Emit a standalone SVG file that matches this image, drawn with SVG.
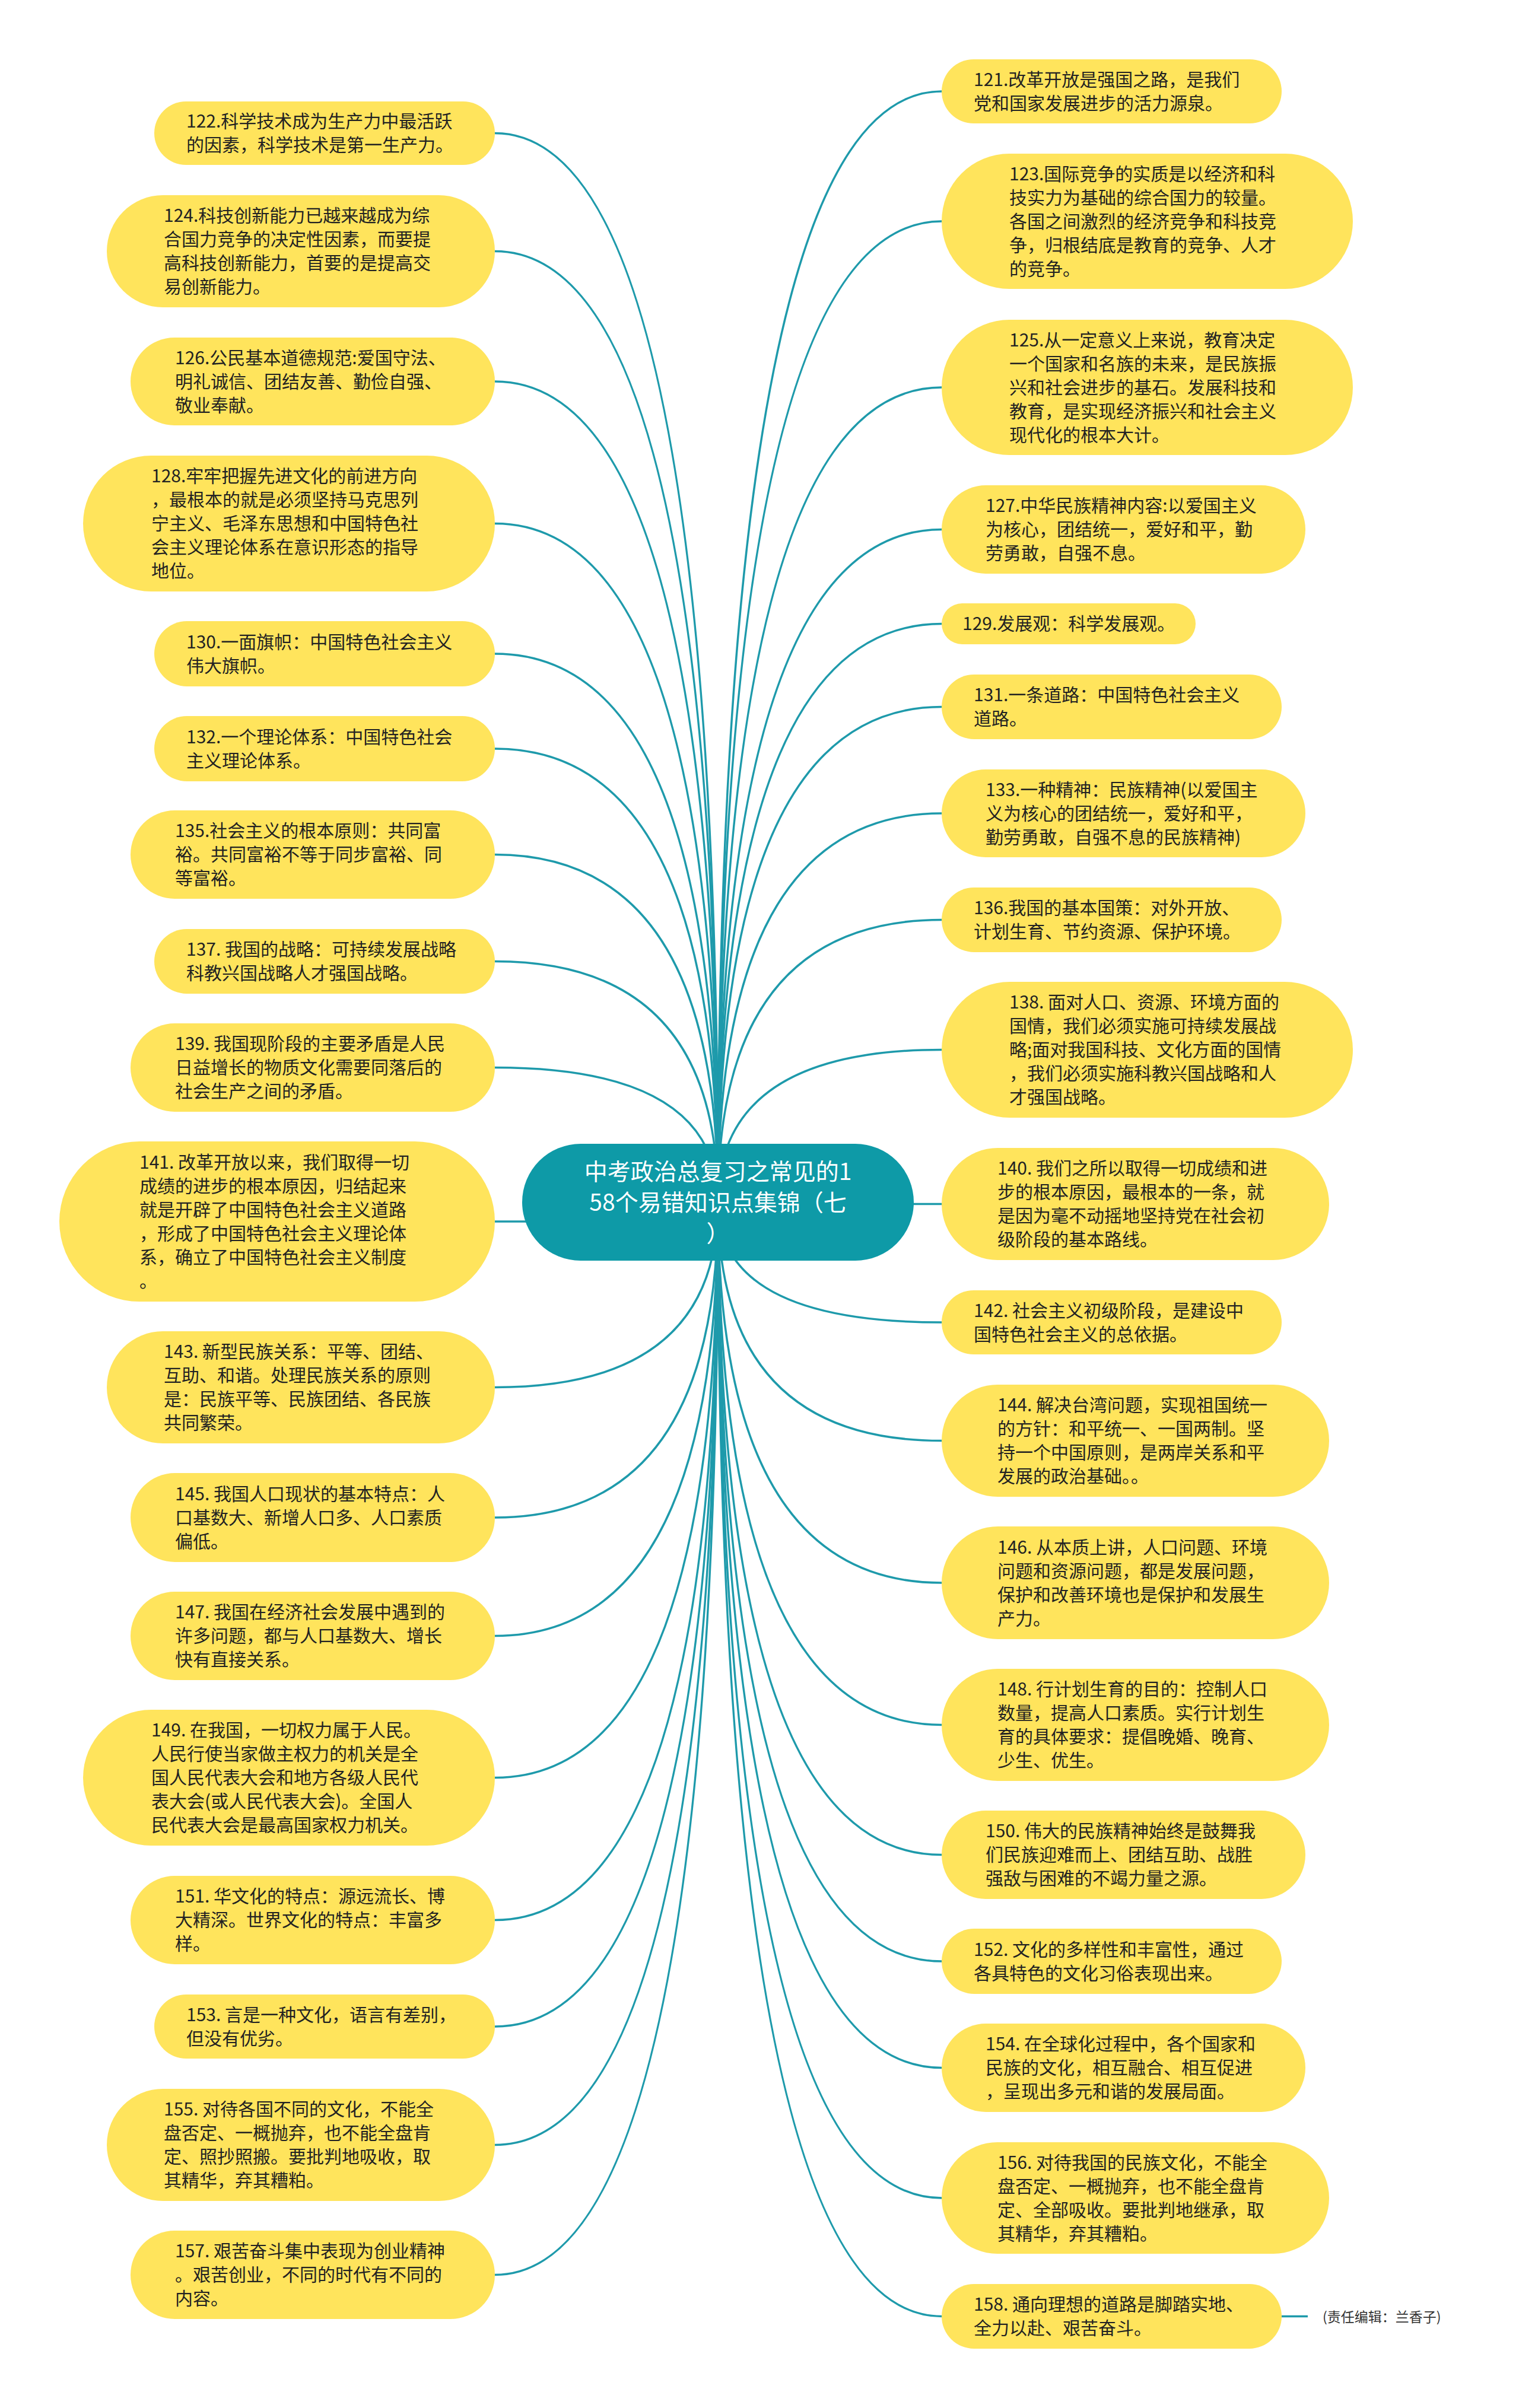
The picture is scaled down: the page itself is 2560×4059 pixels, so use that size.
<svg xmlns="http://www.w3.org/2000/svg" width="2560" height="4059" viewBox="0 0 2560 4059">
<style>
.n{fill:#FFE45C}
.t{font-family:"Noto Sans CJK SC","Noto Sans",sans-serif;font-size:30px;fill:#222}
.c{fill:#0E9AA7}
.ct{font-family:"Noto Sans CJK SC","Noto Sans",sans-serif;font-size:39px;fill:#fff;text-anchor:middle}
.e{stroke:#1E9AAB;stroke-width:3.5;fill:none}
.ed{font-family:"Noto Sans CJK SC","Noto Sans",sans-serif;font-size:23px;fill:#333}
</style>
<rect width="2560" height="4059" fill="#fff"/>
<g id="connectors">
<path class="e" d="M1210 2027 Q1210 224.5 834 224.5"/>
<path class="e" d="M1210 2027 Q1210 423.5 834 423.5"/>
<path class="e" d="M1210 2027 Q1210 643 834 643"/>
<path class="e" d="M1210 2027 Q1210 882.5 834 882.5"/>
<path class="e" d="M1210 2027 Q1210 1102 834 1102"/>
<path class="e" d="M1210 2027 Q1210 1262 834 1262"/>
<path class="e" d="M1210 2027 Q1210 1440.5 834 1440.5"/>
<path class="e" d="M1210 2027 Q1210 1620.5 834 1620.5"/>
<path class="e" d="M1210 2027 Q1210 1799.5 834 1799.5"/>
<path class="e" d="M1210 2027 Q1210 2059 834 2059"/>
<path class="e" d="M1210 2027 Q1210 2338.5 834 2338.5"/>
<path class="e" d="M1210 2027 Q1210 2558 834 2558"/>
<path class="e" d="M1210 2027 Q1210 2757.5 834 2757.5"/>
<path class="e" d="M1210 2027 Q1210 2996.5 834 2996.5"/>
<path class="e" d="M1210 2027 Q1210 3236.5 834 3236.5"/>
<path class="e" d="M1210 2027 Q1210 3416 834 3416"/>
<path class="e" d="M1210 2027 Q1210 3615.5 834 3615.5"/>
<path class="e" d="M1210 2027 Q1210 3834.5 834 3834.5"/>
<path class="e" d="M1210 2027 Q1210 154 1587 154"/>
<path class="e" d="M1210 2027 Q1210 373 1587 373"/>
<path class="e" d="M1210 2027 Q1210 653 1587 653"/>
<path class="e" d="M1210 2027 Q1210 892.5 1587 892.5"/>
<path class="e" d="M1210 2027 Q1210 1051.5 1587 1051.5"/>
<path class="e" d="M1210 2027 Q1210 1191.5 1587 1191.5"/>
<path class="e" d="M1210 2027 Q1210 1371 1587 1371"/>
<path class="e" d="M1210 2027 Q1210 1550.5 1587 1550.5"/>
<path class="e" d="M1210 2027 Q1210 1769.5 1587 1769.5"/>
<path class="e" d="M1210 2027 Q1210 2029.5 1587 2029.5"/>
<path class="e" d="M1210 2027 Q1210 2229 1587 2229"/>
<path class="e" d="M1210 2027 Q1210 2428.5 1587 2428.5"/>
<path class="e" d="M1210 2027 Q1210 2668 1587 2668"/>
<path class="e" d="M1210 2027 Q1210 2907.5 1587 2907.5"/>
<path class="e" d="M1210 2027 Q1210 3126.5 1587 3126.5"/>
<path class="e" d="M1210 2027 Q1210 3306 1587 3306"/>
<path class="e" d="M1210 2027 Q1210 3485.5 1587 3485.5"/>
<path class="e" d="M1210 2027 Q1210 3705 1587 3705"/>
<path class="e" d="M1210 2027 Q1210 3904.5 1587 3904.5"/>
<path class="e" d="M2160 3904.5 L2204 3904.5"/>
</g>
<g id="center"><rect class="c" x="880" y="1928" width="660" height="197" rx="98.5"/>
<text class="ct" x="1210" y="1988.5">中考政治总复习之常见的1<tspan x="1210" dy="52">58个易错知识点集锦（七</tspan><tspan x="1210" dy="52">）</tspan></text></g>
<g id="n122"><rect class="n" x="260" y="171" width="574" height="107" rx="53.5"/><text class="t" x="314" y="215">122.科学技术成为生产力中最活跃<tspan x="314" dy="40">的因素，科学技术是第一生产力。</tspan></text></g>
<g id="n124"><rect class="n" x="180" y="329" width="654" height="189" rx="94.5"/><text class="t" x="276" y="374">124.科技创新能力已越来越成为综<tspan x="276" dy="40">合国力竞争的决定性因素，而要提</tspan><tspan x="276" dy="40">高科技创新能力，首要的是提高交</tspan><tspan x="276" dy="40">易创新能力。</tspan></text></g>
<g id="n126"><rect class="n" x="220" y="569" width="614" height="148" rx="74"/><text class="t" x="295" y="613.5">126.公民基本道德规范:爱国守法、<tspan x="295" dy="40">明礼诚信、团结友善、勤俭自强、</tspan><tspan x="295" dy="40">敬业奉献。</tspan></text></g>
<g id="n128"><rect class="n" x="140" y="768" width="694" height="229" rx="114.5"/><text class="t" x="255" y="813">128.牢牢把握先进文化的前进方向<tspan x="255" dy="40">，最根本的就是必须坚持马克思列</tspan><tspan x="255" dy="40">宁主义、毛泽东思想和中国特色社</tspan><tspan x="255" dy="40">会主义理论体系在意识形态的指导</tspan><tspan x="255" dy="40">地位。</tspan></text></g>
<g id="n130"><rect class="n" x="260" y="1047" width="574" height="110" rx="55"/><text class="t" x="314" y="1092.5">130.一面旗帜：中国特色社会主义<tspan x="314" dy="40">伟大旗帜。</tspan></text></g>
<g id="n132"><rect class="n" x="260" y="1207" width="574" height="110" rx="55"/><text class="t" x="314" y="1252.5">132.一个理论体系：中国特色社会<tspan x="314" dy="40">主义理论体系。</tspan></text></g>
<g id="n135"><rect class="n" x="220" y="1366" width="614" height="149" rx="74.5"/><text class="t" x="295" y="1411">135.社会主义的根本原则：共同富<tspan x="295" dy="40">裕。共同富裕不等于同步富裕、同</tspan><tspan x="295" dy="40">等富裕。</tspan></text></g>
<g id="n137"><rect class="n" x="260" y="1566" width="574" height="109" rx="54.5"/><text class="t" x="314" y="1611">137. 我国的战略：可持续发展战略<tspan x="314" dy="40">科教兴国战略人才强国战略。</tspan></text></g>
<g id="n139"><rect class="n" x="220" y="1725" width="614" height="149" rx="74.5"/><text class="t" x="295" y="1770">139. 我国现阶段的主要矛盾是人民<tspan x="295" dy="40">日益增长的物质文化需要同落后的</tspan><tspan x="295" dy="40">社会生产之间的矛盾。</tspan></text></g>
<g id="n141"><rect class="n" x="100" y="1924" width="734" height="270" rx="135"/><text class="t" x="235" y="1969.5">141. 改革开放以来，我们取得一切<tspan x="235" dy="40">成绩的进步的根本原因，归结起来</tspan><tspan x="235" dy="40">就是开辟了中国特色社会主义道路</tspan><tspan x="235" dy="40">，形成了中国特色社会主义理论体</tspan><tspan x="235" dy="40">系，确立了中国特色社会主义制度</tspan><tspan x="235" dy="40">。</tspan></text></g>
<g id="n143"><rect class="n" x="180" y="2244" width="654" height="189" rx="94.5"/><text class="t" x="276" y="2289">143. 新型民族关系：平等、团结、<tspan x="276" dy="40">互助、和谐。处理民族关系的原则</tspan><tspan x="276" dy="40">是：民族平等、民族团结、各民族</tspan><tspan x="276" dy="40">共同繁荣。</tspan></text></g>
<g id="n145"><rect class="n" x="220" y="2483" width="614" height="150" rx="75"/><text class="t" x="295" y="2528.5">145. 我国人口现状的基本特点：人<tspan x="295" dy="40">口基数大、新增人口多、人口素质</tspan><tspan x="295" dy="40">偏低。</tspan></text></g>
<g id="n147"><rect class="n" x="220" y="2683" width="614" height="149" rx="74.5"/><text class="t" x="295" y="2728">147. 我国在经济社会发展中遇到的<tspan x="295" dy="40">许多问题，都与人口基数大、增长</tspan><tspan x="295" dy="40">快有直接关系。</tspan></text></g>
<g id="n149"><rect class="n" x="140" y="2882" width="694" height="229" rx="114.5"/><text class="t" x="255" y="2927">149. 在我国，一切权力属于人民。<tspan x="255" dy="40">人民行使当家做主权力的机关是全</tspan><tspan x="255" dy="40">国人民代表大会和地方各级人民代</tspan><tspan x="255" dy="40">表大会(或人民代表大会)。全国人</tspan><tspan x="255" dy="40">民代表大会是最高国家权力机关。</tspan></text></g>
<g id="n151"><rect class="n" x="220" y="3162" width="614" height="149" rx="74.5"/><text class="t" x="295" y="3207">151. 华文化的特点：源远流长、博<tspan x="295" dy="40">大精深。世界文化的特点：丰富多</tspan><tspan x="295" dy="40">样。</tspan></text></g>
<g id="n153"><rect class="n" x="260" y="3362" width="574" height="108" rx="54"/><text class="t" x="314" y="3406.5">153. 言是一种文化，语言有差别，<tspan x="314" dy="40">但没有优劣。</tspan></text></g>
<g id="n155"><rect class="n" x="180" y="3521" width="654" height="189" rx="94.5"/><text class="t" x="276" y="3566">155. 对待各国不同的文化，不能全<tspan x="276" dy="40">盘否定、一概抛弃，也不能全盘肯</tspan><tspan x="276" dy="40">定、照抄照搬。要批判地吸收，取</tspan><tspan x="276" dy="40">其精华，弃其糟粕。</tspan></text></g>
<g id="n157"><rect class="n" x="220" y="3760" width="614" height="149" rx="74.5"/><text class="t" x="295" y="3805">157. 艰苦奋斗集中表现为创业精神<tspan x="295" dy="40">。艰苦创业，不同的时代有不同的</tspan><tspan x="295" dy="40">内容。</tspan></text></g>
<g id="n121"><rect class="n" x="1587" y="100" width="573" height="108" rx="54"/><text class="t" x="1641" y="144.5">121.改革开放是强国之路，是我们<tspan x="1641" dy="40">党和国家发展进步的活力源泉。</tspan></text></g>
<g id="n123"><rect class="n" x="1587" y="259" width="693" height="228" rx="114"/><text class="t" x="1701" y="303.5">123.国际竞争的实质是以经济和科<tspan x="1701" dy="40">技实力为基础的综合国力的较量。</tspan><tspan x="1701" dy="40">各国之间激烈的经济竞争和科技竞</tspan><tspan x="1701" dy="40">争，归根结底是教育的竞争、人才</tspan><tspan x="1701" dy="40">的竞争。</tspan></text></g>
<g id="n125"><rect class="n" x="1587" y="539" width="693" height="228" rx="114"/><text class="t" x="1701" y="583.5">125.从一定意义上来说，教育决定<tspan x="1701" dy="40">一个国家和名族的未来，是民族振</tspan><tspan x="1701" dy="40">兴和社会进步的基石。发展科技和</tspan><tspan x="1701" dy="40">教育，是实现经济振兴和社会主义</tspan><tspan x="1701" dy="40">现代化的根本大计。</tspan></text></g>
<g id="n127"><rect class="n" x="1587" y="818" width="613" height="149" rx="74.5"/><text class="t" x="1661" y="863">127.中华民族精神内容:以爱国主义<tspan x="1661" dy="40">为核心，团结统一，爱好和平，勤</tspan><tspan x="1661" dy="40">劳勇敢，自强不息。</tspan></text></g>
<g id="n129"><rect class="n" x="1587" y="1017" width="428" height="69" rx="34.5"/><text class="t" x="1622" y="1062">129.发展观：科学发展观。</text></g>
<g id="n131"><rect class="n" x="1587" y="1137" width="573" height="109" rx="54.5"/><text class="t" x="1641" y="1182">131.一条道路：中国特色社会主义<tspan x="1641" dy="40">道路。</tspan></text></g>
<g id="n133"><rect class="n" x="1587" y="1297" width="613" height="148" rx="74"/><text class="t" x="1661" y="1341.5">133.一种精神：民族精神(以爱国主<tspan x="1661" dy="40">义为核心的团结统一，爱好和平，</tspan><tspan x="1661" dy="40">勤劳勇敢，自强不息的民族精神)</tspan></text></g>
<g id="n136"><rect class="n" x="1587" y="1496" width="573" height="109" rx="54.5"/><text class="t" x="1641" y="1541">136.我国的基本国策：对外开放、<tspan x="1641" dy="40">计划生育、节约资源、保护环境。</tspan></text></g>
<g id="n138"><rect class="n" x="1587" y="1655" width="693" height="229" rx="114.5"/><text class="t" x="1701" y="1700">138. 面对人口、资源、环境方面的<tspan x="1701" dy="40">国情，我们必须实施可持续发展战</tspan><tspan x="1701" dy="40">略;面对我国科技、文化方面的国情</tspan><tspan x="1701" dy="40">，我们必须实施科教兴国战略和人</tspan><tspan x="1701" dy="40">才强国战略。</tspan></text></g>
<g id="n140"><rect class="n" x="1587" y="1935" width="653" height="189" rx="94.5"/><text class="t" x="1681" y="1980">140. 我们之所以取得一切成绩和进<tspan x="1681" dy="40">步的根本原因，最根本的一条，就</tspan><tspan x="1681" dy="40">是因为毫不动摇地坚持党在社会初</tspan><tspan x="1681" dy="40">级阶段的基本路线。</tspan></text></g>
<g id="n142"><rect class="n" x="1587" y="2175" width="573" height="108" rx="54"/><text class="t" x="1641" y="2219.5">142. 社会主义初级阶段，是建设中<tspan x="1641" dy="40">国特色社会主义的总依据。</tspan></text></g>
<g id="n144"><rect class="n" x="1587" y="2334" width="653" height="189" rx="94.5"/><text class="t" x="1681" y="2379">144. 解决台湾问题，实现祖国统一<tspan x="1681" dy="40">的方针：和平统一、一国两制。坚</tspan><tspan x="1681" dy="40">持一个中国原则，是两岸关系和平</tspan><tspan x="1681" dy="40">发展的政治基础。。</tspan></text></g>
<g id="n146"><rect class="n" x="1587" y="2573" width="653" height="190" rx="95"/><text class="t" x="1681" y="2618.5">146. 从本质上讲，人口问题、环境<tspan x="1681" dy="40">问题和资源问题，都是发展问题，</tspan><tspan x="1681" dy="40">保护和改善环境也是保护和发展生</tspan><tspan x="1681" dy="40">产力。</tspan></text></g>
<g id="n148"><rect class="n" x="1587" y="2813" width="653" height="189" rx="94.5"/><text class="t" x="1681" y="2858">148. 行计划生育的目的：控制人口<tspan x="1681" dy="40">数量，提高人口素质。实行计划生</tspan><tspan x="1681" dy="40">育的具体要求：提倡晚婚、晚育、</tspan><tspan x="1681" dy="40">少生、优生。</tspan></text></g>
<g id="n150"><rect class="n" x="1587" y="3052" width="613" height="149" rx="74.5"/><text class="t" x="1661" y="3097">150. 伟大的民族精神始终是鼓舞我<tspan x="1661" dy="40">们民族迎难而上、团结互助、战胜</tspan><tspan x="1661" dy="40">强敌与困难的不竭力量之源。</tspan></text></g>
<g id="n152"><rect class="n" x="1587" y="3251" width="573" height="110" rx="55"/><text class="t" x="1641" y="3296.5">152. 文化的多样性和丰富性，通过<tspan x="1641" dy="40">各具特色的文化习俗表现出来。</tspan></text></g>
<g id="n154"><rect class="n" x="1587" y="3411" width="613" height="149" rx="74.5"/><text class="t" x="1661" y="3456">154. 在全球化过程中，各个国家和<tspan x="1661" dy="40">民族的文化，相互融合、相互促进</tspan><tspan x="1661" dy="40">，呈现出多元和谐的发展局面。</tspan></text></g>
<g id="n156"><rect class="n" x="1587" y="3611" width="653" height="188" rx="94"/><text class="t" x="1681" y="3655.5">156. 对待我国的民族文化，不能全<tspan x="1681" dy="40">盘否定、一概抛弃，也不能全盘肯</tspan><tspan x="1681" dy="40">定、全部吸收。要批判地继承，取</tspan><tspan x="1681" dy="40">其精华，弃其糟粕。</tspan></text></g>
<g id="n158"><rect class="n" x="1587" y="3850" width="573" height="109" rx="54.5"/><text class="t" x="1641" y="3895">158. 通向理想的道路是脚踏实地、<tspan x="1641" dy="40">全力以赴、艰苦奋斗。</tspan></text></g>
<g id="note"><text class="ed" x="2229" y="3914">(责任编辑：兰香子)</text></g>
</svg>
